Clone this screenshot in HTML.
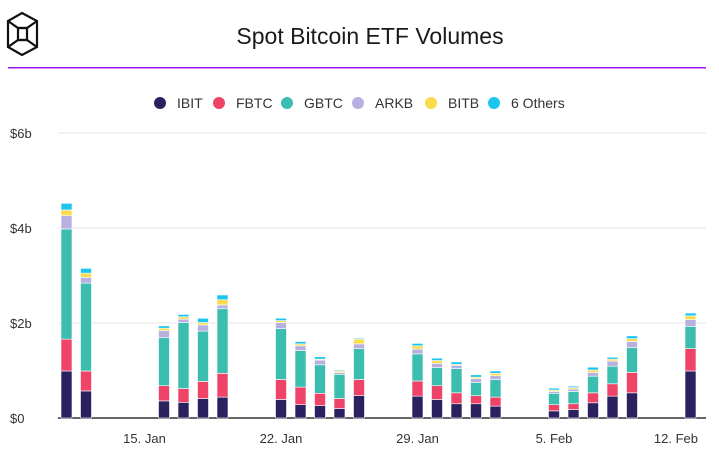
<!DOCTYPE html>
<html><head><meta charset="utf-8"><style>
body{margin:0;background:#fff;font-family:"Liberation Sans",sans-serif;}
svg{display:block}
</style></head><body>
<svg id="chart" width="719" height="453">
  <g fill="none" stroke="#111" stroke-width="2.2">
    <polygon points="22,13 37,21 37,47 22,55 8,47 8,21"/>
    <polyline points="8,21 18,28 27,28 37,21"/>
    <polyline points="8,47 18,40 27,40 37,47"/>
    <rect x="18" y="28" width="9" height="12"/>
  </g>
  <text x="370" y="44" text-anchor="middle" font-size="23" fill="#1a1a1a">Spot Bitcoin ETF Volumes</text>
  <rect x="8" y="67" width="698" height="1.5" fill="#a012f5"/>
  <g id="legend"></g>
  <g id="grid"></g>
  <g id="bars"></g>
  <g id="xaxis"></g>
</svg>
<script>
const dates = ["2024-01-11","2024-01-12","2024-01-16","2024-01-17","2024-01-18","2024-01-19","2024-01-22","2024-01-23","2024-01-24","2024-01-25","2024-01-26","2024-01-29","2024-01-30","2024-01-31","2024-02-01","2024-02-02","2024-02-05","2024-02-06","2024-02-07","2024-02-08","2024-02-09","2024-02-12"];
const seriesNames = ["IBIT","FBTC","GBTC","ARKB","BITB","6 Others"];
const seriesColors = ["#2b2160","#ef4468","#3bbdb0","#b8b0e0","#fbdc4e","#1bc5f0"];
const ibit = [0.99,0.57,0.36,0.33,0.41,0.44,0.39,0.28,0.26,0.20,0.47,0.46,0.39,0.30,0.30,0.25,0.15,0.18,0.32,0.46,0.53,0.99];
const fbtc = [0.67,0.42,0.32,0.29,0.36,0.50,0.42,0.37,0.26,0.21,0.34,0.32,0.29,0.23,0.17,0.19,0.13,0.12,0.21,0.26,0.43,0.47];
const gbtc = [2.32,1.85,1.01,1.39,1.06,1.36,1.07,0.77,0.60,0.51,0.65,0.57,0.38,0.51,0.28,0.37,0.24,0.26,0.35,0.37,0.52,0.47];
const arkb = [0.28,0.12,0.15,0.07,0.13,0.08,0.13,0.10,0.10,0.04,0.10,0.10,0.09,0.07,0.08,0.08,0.04,0.05,0.08,0.11,0.13,0.14];
const bitb = [0.12,0.09,0.05,0.05,0.05,0.11,0.04,0.04,0.02,0.03,0.10,0.07,0.06,0.02,0.03,0.05,0.03,0.03,0.05,0.04,0.06,0.08];
const others = [0.14,0.10,0.05,0.05,0.09,0.10,0.05,0.05,0.05,0.02,0.02,0.05,0.05,0.05,0.05,0.05,0.04,0.03,0.06,0.04,0.06,0.06];
const yTicks = [0,2,4,6];
const yTickLabels = ["$0","$2b","$4b","$6b"];
const xTicks = ["2024-01-15","2024-01-22","2024-01-29","2024-02-05","2024-02-12"];
const xTickLabels = ["15. Jan","22. Jan","29. Jan","5. Feb","12. Feb"];

const NS="http://www.w3.org/2000/svg";
const day0=Date.UTC(2024,0,11), pxPerDay=19.5, x0=66.5;
function xScale(d){const t=Date.parse(d+"T00:00:00Z");return x0+(t-day0)/86400000*pxPerDay;}
function yScale(v){return 418-v*47.5;}
function mk(tag,attrs,parent){const e=document.createElementNS(NS,tag);for(const k in attrs)e.setAttribute(k,attrs[k]);parent.appendChild(e);return e;}

const grid=document.getElementById('grid');
yTicks.forEach((v,i)=>{
  const y=yScale(v);
  const l=mk('line',{x1:58,x2:706,y1:y,y2:y,stroke:i===0?'#333':'#e6e6e6','stroke-width':i===0?1.5:1},grid);
  
  
  const t=mk('text',{x:10,y:y+5,'font-size':13,fill:'#333'},grid);
  t.textContent=yTickLabels[i];
  
  
});
const xa=document.getElementById('xaxis');
xTicks.forEach((d,i)=>{
  let x=xScale(d), anchor='middle';
  if(x+25>706){x=698;anchor='end';}
  const t=mk('text',{x:x,y:443,'font-size':13,fill:'#333','text-anchor':anchor},xa);
  t.textContent=xTickLabels[i];
  
  
});
const series=[ibit,fbtc,gbtc,arkb,bitb,others];
const bars=document.getElementById('bars');
dates.forEach((d,i)=>{
  let cum=0;const cx=xScale(d);
  series.forEach((s,k)=>{
    const v=s[i];const yTop=yScale(cum+v),yBot=yScale(cum);cum+=v;
    const r=mk('rect',{x:cx-5.5,y:yTop,width:11,height:Math.max(0,yBot-yTop),fill:seriesColors[k],stroke:'#fff','stroke-width':0.6},bars);
    
    
  });
});
const lg=document.getElementById('legend');
const lx=[160,219,287,358,431,494];
seriesNames.forEach((n,k)=>{
  const g=mk('g',{},lg);
  
  
  mk('circle',{cx:lx[k],cy:103,r:6,fill:seriesColors[k]},g);
  const t=mk('text',{x:lx[k]+17,y:108,'font-size':14,fill:'#333'},g);
  t.textContent=n;
});
</script>
</body></html>
